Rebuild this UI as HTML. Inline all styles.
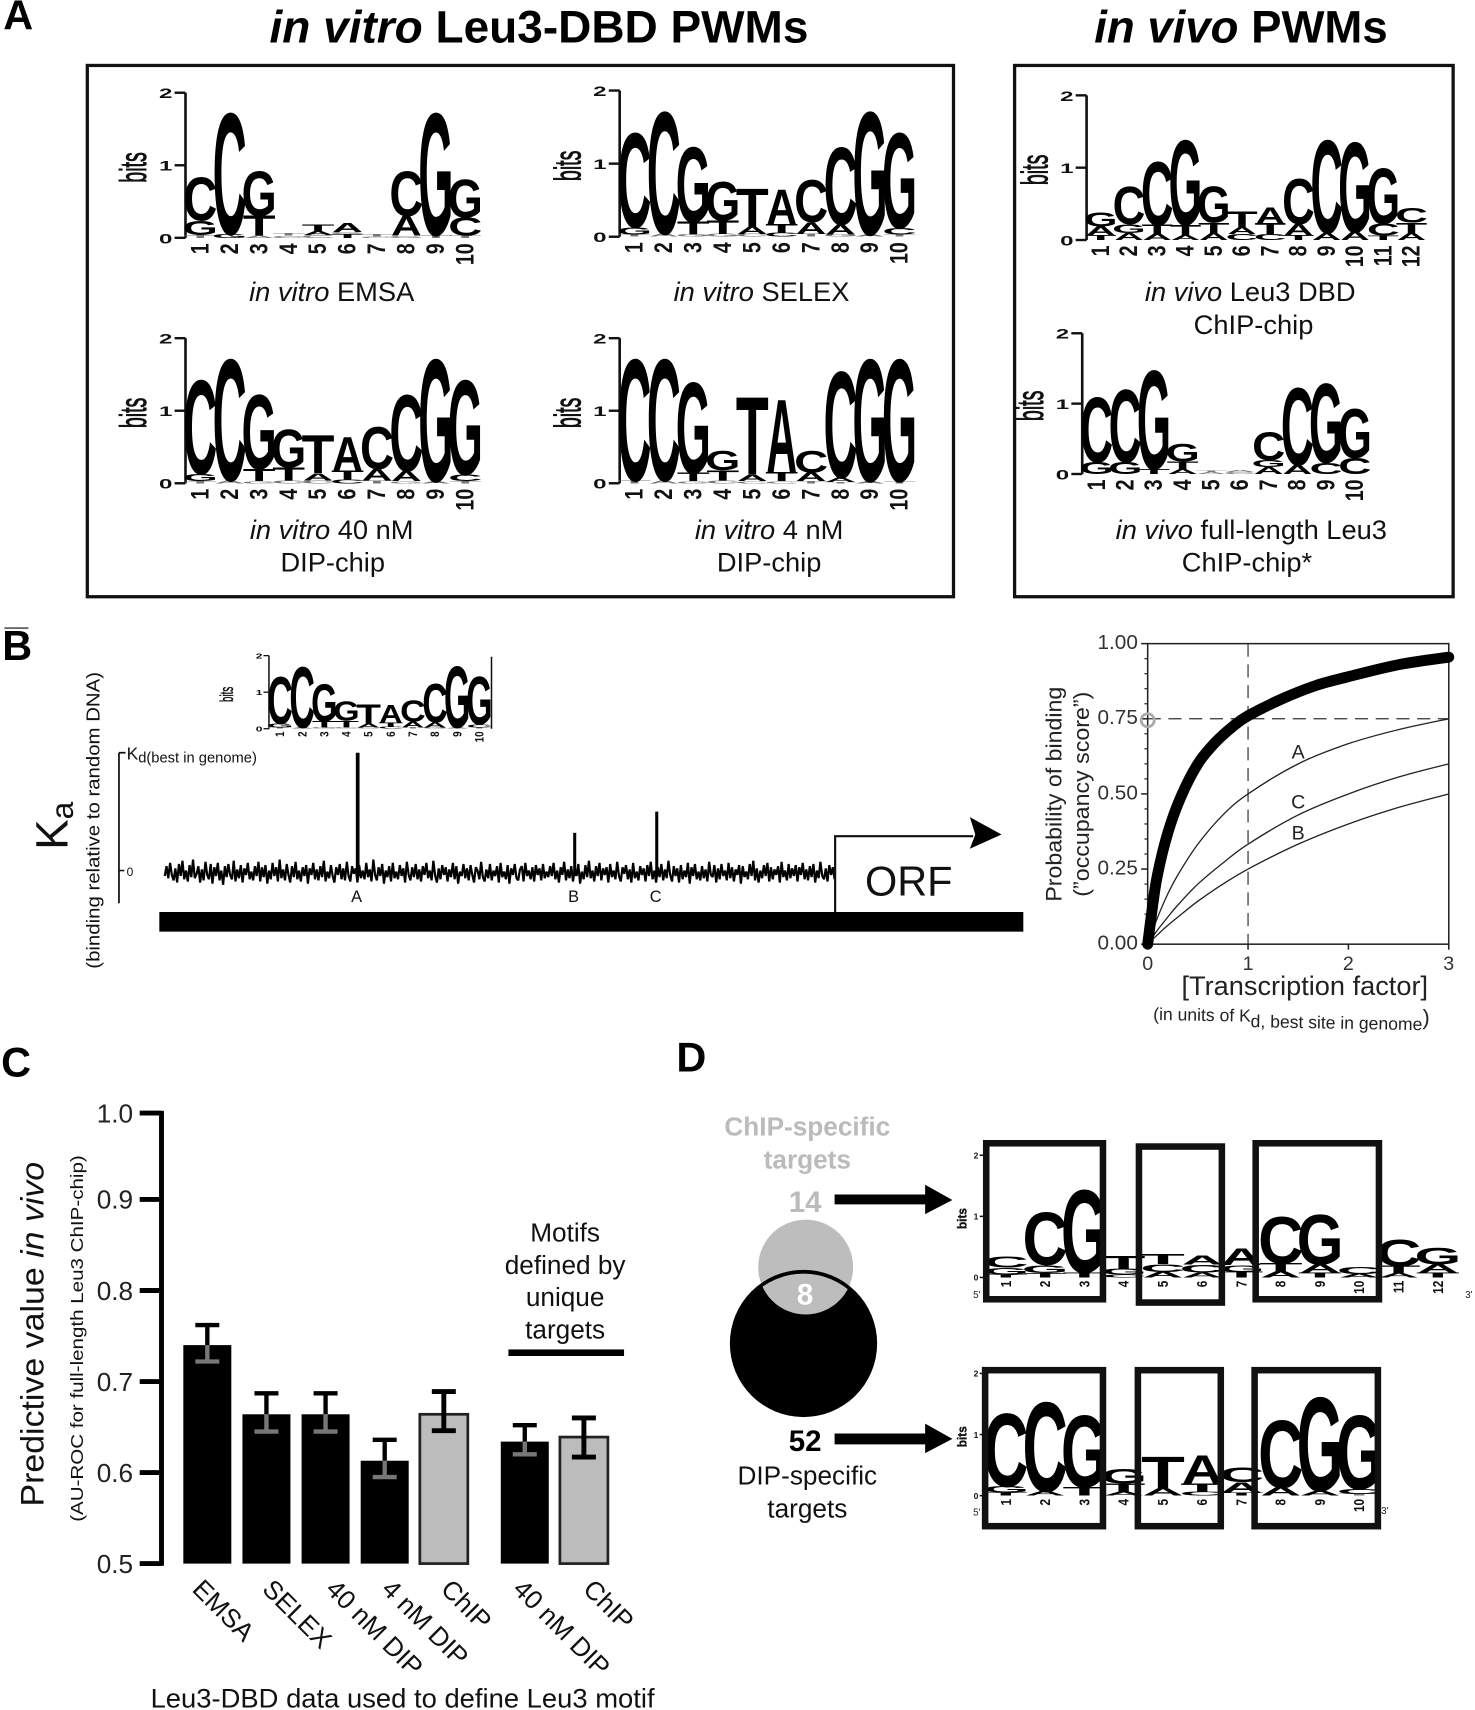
<!DOCTYPE html>
<html lang="en">
<head>
<meta charset="utf-8">
<title>Leu3 PWM figure</title>
<style>
html,body{margin:0;padding:0;background:#fff;}
svg{display:block;font-family:"Liberation Sans",sans-serif;}
</style>
</head>
<body>
<svg id="fig" xmlns="http://www.w3.org/2000/svg" width="1475" height="1710" viewBox="0 0 1352 1567.5">
  <rect x="0" y="0" width="1352" height="1567.5" fill="#fff"/>

  <!-- panel letters -->
  <text x="3" y="27" font-size="38" font-weight="bold">A</text>
  <text x="2" y="605" font-size="38" font-weight="bold">B</text>
  <text x="1" y="987" font-size="38" font-weight="bold">C</text>
  <text x="620" y="982" font-size="38" font-weight="bold">D</text>
  <rect x="4" y="575" width="22" height="1.5" fill="#555"/>

  <!-- panel A headings and frames -->
  <text x="247" y="39" font-size="42" font-weight="bold" textLength="494" lengthAdjust="spacingAndGlyphs"><tspan font-style="italic">in vitro</tspan> Leu3-DBD PWMs</text>
  <text x="1003" y="39" font-size="42" font-weight="bold" textLength="269" lengthAdjust="spacingAndGlyphs"><tspan font-style="italic">in vivo</tspan> PWMs</text>
  <rect x="80" y="60" width="794" height="487" fill="none" stroke="#111" stroke-width="3"/>
  <rect x="930" y="60" width="402" height="487" fill="none" stroke="#111" stroke-width="3"/>

  <g font-size="25" fill="#111" text-anchor="middle">
    <text x="304" y="276"><tspan font-style="italic">in vitro</tspan> EMSA</text>
    <text x="698" y="276"><tspan font-style="italic">in vitro</tspan> SELEX</text>
    <text x="304" y="494"><tspan font-style="italic">in vitro</tspan> 40 nM</text>
    <text x="305" y="524">DIP-chip</text>
    <text x="705" y="494"><tspan font-style="italic">in vitro</tspan> 4 nM</text>
    <text x="705" y="524">DIP-chip</text>
    <text x="1146" y="276"><tspan font-style="italic">in vivo</tspan> Leu3 DBD</text>
    <text x="1149" y="306">ChIP-chip</text>
    <text x="1147" y="494"><tspan font-style="italic">in vivo</tspan> full-length Leu3</text>
    <text x="1143" y="524">ChIP-chip*</text>
  </g>

  <g id="logos"></g>

  <g font-size="9" fill="#222">
    <text x="892" y="1190">5'</text>
    <text x="1343" y="1190">3'</text>
    <text x="892" y="1389">5'</text>
    <text x="1266" y="1388">3'</text>
  </g>

  <!-- panel B left -->
  <g fill="#111">
    <text transform="translate(62,757) rotate(-90)" text-anchor="middle" font-size="42">K<tspan font-size="29" dy="5">a</tspan></text>
    <text transform="translate(91,752) rotate(-90)" text-anchor="middle" font-size="17" textLength="272" lengthAdjust="spacingAndGlyphs">(binding relative to random DNA)</text>
    <text x="116" y="696" font-size="16">K<tspan font-size="13.5" dy="3">d(best in genome)</tspan></text>
    <text x="116" y="803" font-size="11">0</text>
  </g>
  <g id="promoter"></g>
  <rect x="146" y="836" width="792" height="18" fill="#000"/>
  <path d="M765.5 836 V766.5 H892" fill="none" stroke="#111" stroke-width="2"/>
  <path d="M889 749 L918 765 L889 778 L894 765 Z" fill="#000"/>
  <text x="833" y="821" text-anchor="middle" font-size="38" fill="#111">ORF</text>

  <!-- panel B right -->
  <g id="occupancy"></g>
  <g fill="#222">
    <text transform="translate(973,728) rotate(-90)" text-anchor="middle" font-size="20.5" textLength="197" lengthAdjust="spacingAndGlyphs">Probability of binding</text>
    <text transform="translate(998,728) rotate(-90)" text-anchor="middle" font-size="20.5" textLength="188" lengthAdjust="spacingAndGlyphs">(”occupancy score”)</text>
    <text x="1083" y="912" font-size="25" textLength="226" lengthAdjust="spacingAndGlyphs">[Transcription factor]</text>
    <text transform="translate(1057,935) rotate(1)" font-size="16.1">(in units of K<tspan font-size="16.1" dy="5">d, best site in genome</tspan><tspan dy="-5" font-size="20">)</tspan></text>
  </g>

  <!-- panel C -->
  <g id="bars"></g>
  <g fill="#111">
    <text transform="translate(40,1223) rotate(-90)" text-anchor="middle" font-size="30" textLength="316" lengthAdjust="spacingAndGlyphs">Predictive value <tspan font-style="italic">in vivo</tspan></text>
    <text transform="translate(76,1227) rotate(-90)" text-anchor="middle" font-size="16" textLength="336" lengthAdjust="spacingAndGlyphs">(AU-ROC for full-length Leu3 ChIP-chip)</text>
    <text x="138" y="1565" font-size="25" textLength="462" lengthAdjust="spacingAndGlyphs">Leu3-DBD data used to define Leu3 motif</text>
    <g font-size="24" text-anchor="middle">
      <text x="518" y="1138">Motifs</text>
      <text x="518" y="1168">defined by</text>
      <text x="518" y="1197">unique</text>
      <text x="518" y="1227">targets</text>
    </g>
    <rect x="466" y="1237" width="106" height="6" fill="#000"/>
  </g>

  <!-- panel D -->
  <defs>
    <clipPath id="venn-clip"><ellipse cx="736.5" cy="1234.5" rx="66" ry="67"/></clipPath>
  </defs>
  <g>
    <ellipse cx="738.5" cy="1161.5" rx="43.5" ry="43.5" fill="#bdbdbd"/>
    <ellipse cx="736.5" cy="1231.5" rx="67.5" ry="67.5" fill="#000"/>
    <ellipse cx="738.5" cy="1161.5" rx="43.5" ry="43.5" fill="#bdbdbd" clip-path="url(#venn-clip)"/>
    <text x="738" y="1196" text-anchor="middle" font-size="27" font-weight="bold" fill="#fff">8</text>
  </g>
  <g text-anchor="middle" font-size="24">
    <text x="740" y="1041" fill="#bbb" font-weight="bold">ChIP-specific</text>
    <text x="740" y="1071" fill="#bbb" font-weight="bold">targets</text>
    <text x="738" y="1111" fill="#bbb" font-weight="bold" font-size="27">14</text>
    <text x="738" y="1330" fill="#000" font-weight="bold" font-size="27">52</text>
    <text x="740" y="1361" fill="#111">DIP-specific</text>
    <text x="740" y="1391" fill="#111">targets</text>
  </g>
  <path d="M765 1095 H848 V1086 L873 1100 L848 1113 V1104 H765 Z" fill="#000"/>
  <path d="M765 1314 H848 V1305 L873 1319 L848 1332 V1324 H765 Z" fill="#000"/>
  <g fill="none" stroke="#111" stroke-width="6">
    <rect x="904" y="1048" width="107" height="143"/>
    <rect x="1044" y="1051" width="76" height="143"/>
    <rect x="1151" y="1048" width="113" height="143"/>
    <rect x="903" y="1256" width="108" height="143"/>
    <rect x="1043" y="1256" width="76" height="143"/>
    <rect x="1150" y="1256" width="113" height="143"/>
  </g>
</svg>
<script>
// ---------- sequence logo data (letter, bits), bottom to top ----------
const emsaStacks = [
  [['T',.04],['G',.2],['C',.6]],[['G',.05],['C',1.68]],[['A',.03],['T',.27],['G',.62]],
  [['C',.03],['T',.03]],[['C',.04],['A',.05],['T',.1]],[['T',.05],['G',.03],['A',.12]],
  [['C',.02],['T',.03]],[['G',.03],['A',.27],['C',.62]],[['T',.04],['G',1.69]],[['T',.03],['C',.25],['G',.53]]
];
const selexStacks = [
  [['T',.03],['G',.1],['C',1.3]],[['A',.04],['C',1.68]],[['G',.03],['T',.17],['G',1.03]],
  [['G',.04],['T',.18],['G',.53]],[['C',.04],['A',.1],['T',.52]],[['C',.05],['T',.12],['A',.47]],
  [['T',.04],['A',.16],['C',.58]],[['G',.03],['A',.14],['C',1.06]],[['A',.03],['G',1.69]],[['T',.03],['C',.09],['G',1.31]]
];
const nm40Stacks = [
  [['T',.03],['G',.1],['C',1.3]],[['A',.04],['C',1.68]],[['G',.03],['T',.17],['G',1.03]],
  [['C',.04],['T',.18],['G',.53]],[['C',.04],['A',.1],['T',.52]],[['C',.05],['T',.12],['A',.47]],
  [['T',.04],['A',.16],['C',.58]],[['G',.03],['A',.14],['C',1.06]],[['A',.03],['G',1.69]],[['T',.03],['C',.09],['G',1.31]]
];
const nm4Stacks = [
  [['T',.04],['C',1.68]],[['A',.04],['C',1.68]],[['G',.03],['T',.11],['G',1.26]],
  [['C',.04],['T',.14],['G',.27]],[['C',.03],['A',.09],['T',1.06]],[['C',.03],['T',.12],['A',1.0]],
  [['T',.03],['A',.12],['C',.3]],[['T',.02],['A',.06],['C',1.47]],[['A',.03],['G',1.69]],[['T',.03],['G',1.69]]
];
const vivoDbdStacks = [
  [['T',.07],['A',.12],['G',.2]],[['A',.1],['G',.12],['C',.52]],[['A',.09],['T',.12],['C',.88]],
  [['A',.07],['T',.14],['G',1.18]],[['A',.1],['T',.14],['G',.5]],[['C',.08],['A',.1],['T',.21]],
  [['C',.08],['T',.15],['A',.22]],[['T',.07],['A',.15],['C',.63]],[['A',.1],['C',1.29]],
  [['A',.11],['G',1.25]],[['T',.06],['C',.17],['G',.77]],[['A',.1],['T',.14],['C',.21]]
];
const vivoFullStacks = [
  [['G',.17],['C',.92]],[['G',.17],['C',1.03]],[['T',.07],['G',1.41]],
  [['A',.07],['T',.11],['G',.25]],[['A',.03],['T',.02]],[['C',.03],['A',.03]],
  [['A',.1],['G',.1],['C',.4]],[['A',.13],['C',1.1]],[['C',.16],['G',1.13]],[['C',.23],['G',.7]]
];
const dipChipStacks = [
  [['T',.05],['G',.11],['C',.18]],[['T',.07],['G',.13],['C',.86]],[['T',.08],['G',1.36]],
  [['C',.05],['G',.09],['T',.21]],[['A',.09],['C',.13],['T',.17]],[['A',.08],['C',.13],['A',.15]],
  [['T',.09],['G',.11],['A',.27]],[['A',.1],['T',.13],['C',.77]],[['T',.08],['A',.13],['G',.82]],
  [['A',.06],['C',.12]],[['A',.07],['T',.12],['C',.43]],[['T',.08],['A',.13],['G',.28]]
];
const dipSpecificStacks = [
  [['T',.05],['G',.1],['C',1.2]],[['A',.07],['C',1.47]],[['T',.14],['G',1.18]],
  [['A',.06],['T',.14],['G',.24]],[['A',.12],['T',.51]],[['C',.06],['T',.14],['A',.46]],
  [['T',.05],['A',.17],['C',.24]],[['A',.13],['C',1.11]],[['A',.08],['G',1.54]],[['T',.03],['C',.08],['G',1.21]]
];

// ---------- promoter track data ----------
const noiseValues = [
 3,-6,5,-9,2,7,-4,9,-8,3,-11,6,-2,8,-7,4,-12,5,1,-6,9,-3,7,-10,2,6,-8,10,-5,3,-9,7,-2,11,-6,4,-8,2,6,-11,
 8,-3,5,-7,9,-4,2,-9,6,-1,7,-6,3,-10,8,-5,4,-7,10,-2,6,-9,3,-5,8,-12,5,-3,7,-8,2,9,-6,4,-10,6,-2,8,-5,3,
 -7,10,-4,2,-9,6,-3,7,-6,4,-11,8,-1,5,-7,3,9,-5,2,-8,6,-4,7,-10,3,8,-6,1,-4,9,-7,5,-2,6,-9,4,-3,8,-12,2,
 7,-5,3,-8,10,-2,4,-6,8,-9,5,-1,6,-7,3,-4,9,-10,2,7,-5,4,-8,6,-3,8,-6,2,-9,5,-2,7,-11,3,9,-4,6,-7,2,-5,
 8,-3,4,-9,6,-6,10,-1,3,-8,5,-4,7,-7,2,9,-5,-2,6,-10,4,8,-3,5,-8,7,-2,3,-6,9,-9,4,-1,6,-7,10,-4,2,-8,5,
 7,-3,-6,8,-9,3,-2,6,-5,8,-7,2,-4,7,-8,5,-1,4,-6,3,-9,6,-2,9,-5,2,-10,7,-3,5,-6,8,-4,3,-8,10,-1,6,-7,4,
 -11,5,-2,8,-6,3,-9,7,-4,2,-5,9,-8,4,-2,6,-10,3,8,-5,1,-7,6,-3,9,-9,5,-1,7,-6,2,-4,8,-7,3,-10,6,-2,9,-5,
 4,-8,7,-3,5,-11,2,8,-6,3,-4,9,-7,6,-2,4,-9,10,-5,3,-8,6,-1,7,-6,5,-3,8,-10,2,4,-7,9,-4,6,-8,3,-2,7,-9,
 5,-5,8,-3,2,-7,10,-6,4,-1,6,-8,3,-11,7,-4,9,-2,5,-7,3,-9,8,-5,6,-3,2,-6,9,-10,4,-2,7,-8,5,-4,3,-7,8,-5,
 2,-9,6,-3,7,-6,4,-8,9,-2,5,-10,3,6,-4,8,-7,2,-5,6
];
const siteNames = ['A','B','C'];
const sitePosition = [0.288,0.612,0.7345];
const siteKa = [1,0.32,0.5];

// ---------- occupancy chart data ----------
const occX = [0,0.05,0.1,0.2,0.33,0.5,0.67,0.85,1,1.33,1.67,2,2.5,3];
const occStrong = [0,0.13,0.235,0.37,0.49,0.6,0.67,0.725,0.76,0.815,0.86,0.89,0.93,0.955];
const thinX = [0,0.1,0.2,0.3,0.5,0.75,1,1.5,2,2.5,3];
const occA = [0,0.09,0.167,0.23,0.333,0.43,0.5,0.6,0.667,0.714,0.75];
const occC = [0,0.048,0.09,0.13,0.2,0.27,0.333,0.43,0.5,0.556,0.6];
const occB = [0,0.032,0.0625,0.09,0.143,0.2,0.25,0.333,0.4,0.455,0.5];
const occXTicks = [0,1,2,3];
const occYTicks = [0,0.25,0.5,0.75,1];
const occYLabels = ['0.00','0.25','0.50','0.75','1.00'];

// ---------- bar chart data ----------
const barCategories = ['EMSA','SELEX','40 nM DIP','4 nM DIP','ChIP','40 nM DIP','ChIP'];
const barValues = [0.74,0.664,0.664,0.613,0.664,0.634,0.639];
const barHigh = [0.762,0.687,0.687,0.636,0.689,0.652,0.66];
const barLow = [0.722,0.645,0.645,0.595,0.646,0.62,0.617];
const barKinds = ['dip','dip','dip','dip','chip','dip','chip'];
const barYTicks = [0.5,0.6,0.7,0.8,0.9,1.0];

const NS = 'http://www.w3.org/2000/svg';
function mk(parent, tag, name, attrs){
  const el = document.createElementNS(NS, tag);
  
  
  for (const k in attrs) el.setAttribute(k, attrs[k]);
  parent.appendChild(el);
  return el;
}
function mkText(parent, name, str, attrs){
  const el = mk(parent, 'text', name, attrs);
  el.textContent = str;
  return el;
}

// ---------- logos ----------
const inkWidth = {C:65,G:68,T:57,A:72};
const inkHeight = {C:70,G:70,T:69,A:69};
function drawLogo(cfg){
  const g = mk(document.getElementById('logos'), 'g', cfg.name, {});
  const k = cfg.k || 1;
  const y = b => cfg.y0 - b * cfg.bitPx;
  if (cfg.axis !== false) {
    mk(g, 'path', 'logo-y-axis', {d:`M${cfg.x0} ${y(2)} V${y(0)}`, stroke:'#111', 'stroke-width':2*k+.4, fill:'none'});
  }
  [0,1,2].forEach(t => {
    mk(g, 'path', 'logo-y-tick', {d:`M${cfg.x0-10*k} ${y(t)} H${cfg.x0}`, stroke:'#111', 'stroke-width':2*k+.2});
    mkText(g, 'logo-y-tick-label', String(t), {
      transform:`translate(${cfg.x0-12*k},${y(t)+5*k}) scale(${cfg.tickWide||1.7},1)`,
      'text-anchor':'end','font-size':13*k,'font-weight':'bold',fill:'#111'});
  });
  mkText(g, 'logo-bits-label', 'bits', {
    transform:`translate(${cfg.x0-(cfg.bitsGap||36)*k},${y(1)+2}) rotate(-90) scale(1,${cfg.bitsStretch||1.9})`,
    'text-anchor':'middle','font-size':18*k,fill:'#111',
    'font-weight':cfg.bitsBold?'bold':'normal',stroke:'#111','stroke-width':.45*k});
  cfg.stacks.forEach((st,i) => {
    const cx = cfg.x0 + cfg.posW*(i+.5);
    let base = 0;
    st.forEach(pair => {
      const L = pair[0], b = pair[1];
      const sy = b*cfg.bitPx/inkHeight[L];
      const sx = cfg.posW*1.04/inkWidth[L];
      mkText(g, 'logo-letter', L, {
        transform:`translate(${cx},${y(base)}) scale(${sx},${sy})`,
        'text-anchor':'middle','font-size':100,'font-weight':'bold',
        fill: b < 0.05 ? '#777' : '#000'});
      base += b;
    });
    mkText(g, 'logo-position-label', String(i+1), {
      transform:`translate(${cx+7.5*k},${cfg.y0+5*k}) rotate(-90) scale(1,1.25)`,
      'text-anchor':'end','font-size':18*k,'font-weight':'bold',fill:'#111'});
  });
}
drawLogo({name:'logo-emsa',x0:170,y0:218,bitPx:66.5,posW:27,stacks:emsaStacks});
drawLogo({name:'logo-selex',x0:568,y0:217,bitPx:67,posW:27,stacks:selexStacks});
drawLogo({name:'logo-40nm',x0:170,y0:443,bitPx:66.5,posW:27,stacks:nm40Stacks});
drawLogo({name:'logo-4nm',x0:568,y0:443,bitPx:66.5,posW:27,stacks:nm4Stacks});
drawLogo({name:'logo-vivo-dbd',x0:996,y0:220,bitPx:66.3,posW:25.9,stacks:vivoDbdStacks});
drawLogo({name:'logo-vivo-full',x0:992,y0:434.5,bitPx:64.5,posW:26.3,stacks:vivoFullStacks});
drawLogo({name:'logo-inset',x0:246.5,y0:668,bitPx:33.5,posW:20.3,k:0.5,stacks:nm40Stacks,bitsGap:66});
drawLogo({name:'logo-dip-chip',x0:904,y0:1171,bitPx:56,posW:36,k:0.6,axis:false,tickWide:1,bitsGap:30,bitsStretch:1.1,bitsBold:true,stacks:dipChipStacks});
drawLogo({name:'logo-dip-specific',x0:904,y0:1371,bitPx:56,posW:36,k:0.6,axis:false,tickWide:1,bitsGap:30,bitsStretch:1.1,bitsBold:true,stacks:dipSpecificStacks});
mk(document.getElementById('logos'),'path','inset-right-rule',{d:'M450.5 602 V668',stroke:'#111','stroke-width':1.4});

// ---------- promoter ----------
(function(){
  const g = document.getElementById('promoter');
  const x = i => 151 + i*(614/(noiseValues.length-1));
  const xPos = f => 151 + f*614;
  const y = v => 800 + v;
  const yKa = v => 798 - v*108;
  const d = noiseValues.map((v,i)=>(i?'L':'M')+x(i).toFixed(1)+' '+y(v)).join(' ');
  mk(g,'path','binding-noise-trace',{d:d,fill:'none',stroke:'#000','stroke-width':2,'stroke-linejoin':'bevel'});
  mk(g,'path','ka-axis',{d:`M109 ${yKa(1)} V828`,stroke:'#111','stroke-width':1.6,fill:'none'});
  mk(g,'path','ka-tick-best',{d:`M109 ${yKa(1)} H115`,stroke:'#111','stroke-width':1.6});
  mk(g,'path','ka-tick-zero',{d:`M109 ${yKa(0)} H114`,stroke:'#111','stroke-width':1.4});
  siteNames.forEach((n,i)=>{
    const px = xPos(sitePosition[i]);
    mk(g,'path','site-peak-'+n.toLowerCase(),{d:`M${px} ${yKa(siteKa[i])} V803`,stroke:'#000','stroke-width':i===0?3.4:2.8});
    mkText(g,'site-label-'+n.toLowerCase(),n,{x:px-1,y:827,'text-anchor':'middle','font-size':15,fill:'#111'});
  });
})();

// ---------- occupancy ----------
(function(){
  const g = document.getElementById('occupancy');
  const X = v => 1052 + v*(276/3);
  const Y = v => 865.5 - v*275.5;
  function smooth(xs, ys){
    const p = xs.map((v,i)=>[X(v),Y(ys[i])]);
    let d = 'M'+p[0][0]+' '+p[0][1];
    for (let i=0;i<p.length-1;i++){
      const a=p[Math.max(i-1,0)],b=p[i],c=p[i+1],e=p[Math.min(i+2,p.length-1)];
      d += ` C${(b[0]+(c[0]-a[0])/6).toFixed(1)} ${(b[1]+(c[1]-a[1])/6).toFixed(1)} ${(c[0]-(e[0]-b[0])/6).toFixed(1)} ${(c[1]-(e[1]-b[1])/6).toFixed(1)} ${c[0].toFixed(1)} ${c[1].toFixed(1)}`;
    }
    return d;
  }
  mk(g,'rect','occupancy-plot-frame',{x:X(0),y:Y(1),width:X(3)-X(0),height:Y(0)-Y(1),fill:'none',stroke:'#222','stroke-width':1.4});
  occXTicks.forEach(t=>{
    mk(g,'path','occupancy-x-tick',{d:`M${X(t)} ${Y(0)} v5`,stroke:'#222','stroke-width':1.4});
    mkText(g,'occupancy-x-tick-label',String(t),{x:X(t),y:889,'text-anchor':'middle','font-size':18,fill:'#333'});
  });
  occYTicks.forEach((t,i)=>{
    mk(g,'path','occupancy-y-tick',{d:`M${X(0)-6} ${Y(t)} H${X(0)}`,stroke:'#222','stroke-width':1.4});
    mkText(g,'occupancy-y-tick-label',occYLabels[i],{x:1043,y:Y(t)+5,'text-anchor':'end','font-size':19,fill:'#333'});
    if (i<occYTicks.length-1) for (let m=1;m<5;m++){
      const v=t+m*0.05;
      mk(g,'path','occupancy-y-minor-tick',{d:`M${X(0)-3} ${Y(v)} H${X(0)}`,stroke:'#222','stroke-width':1.1});
    }
  });
  mk(g,'path','kd-guide-vertical',{d:`M${X(1)} ${Y(1)} V${Y(0)}`,stroke:'#333','stroke-width':1.1,'stroke-dasharray':'12 7',fill:'none'});
  mk(g,'path','occupancy-guide-horizontal',{d:`M${X(0)} ${Y(.75)} H${X(3)}`,stroke:'#333','stroke-width':1.1,'stroke-dasharray':'12 7',fill:'none'});
  mk(g,'path','curve-site-a',{d:smooth(thinX,occA),fill:'none',stroke:'#222','stroke-width':1.2});
  mk(g,'path','curve-site-c',{d:smooth(thinX,occC),fill:'none',stroke:'#222','stroke-width':1.2});
  mk(g,'path','curve-site-b',{d:smooth(thinX,occB),fill:'none',stroke:'#222','stroke-width':1.2});
  mk(g,'path','curve-best-site',{d:smooth(occX,occStrong),fill:'none',stroke:'#000','stroke-width':10,'stroke-linecap':'round'});
  mk(g,'circle','occupancy-marker',{cx:X(0),cy:Y(.745),r:6,fill:'none',stroke:'#aaa','stroke-width':2.5});
  mkText(g,'curve-label-a','A',{x:X(1.5),y:Y(.6)-5,'text-anchor':'middle','font-size':18,fill:'#222'});
  mkText(g,'curve-label-c','C',{x:X(1.5),y:Y(.43)-6,'text-anchor':'middle','font-size':18,fill:'#222'});
  mkText(g,'curve-label-b','B',{x:X(1.5),y:Y(.333)-4,'text-anchor':'middle','font-size':18,fill:'#222'});
})();

// ---------- bars ----------
(function(){
  const g = document.getElementById('bars');
  // the printed axis is slightly compressed above 0.9
  const Y = v => v <= 0.9 ? 1433.3 - (v-0.5)*834.5 : 1099.5 - (v-0.9)*792;
  const X = i => 190 + 54.2*i + (i>=5 ? 20 : 0);
  const halfW = 22;
  const labelStart = i => X(i) + ({0:-15,1:-5,2:-1,3:-4,4:-4,5:-12,6:-2})[i];
  mk(g,'path','bar-y-axis',{d:`M148 ${Y(1)-2} V${Y(.5)+2}`,stroke:'#000','stroke-width':4.5,fill:'none'});
  barYTicks.forEach(t=>{
    mk(g,'path','bar-y-tick',{d:`M128 ${Y(t)} H148`,stroke:'#000','stroke-width':4.5});
    mkText(g,'bar-y-tick-label',t.toFixed(1),{x:122,y:Y(t)+8.5,'text-anchor':'end','font-size':24,fill:'#222'});
  });
  barValues.forEach((v,i)=>{
    const chip = barKinds[i]==='chip';
    mk(g,'rect','bar-'+i,{x:X(i)-halfW,y:Y(v),width:halfW*2,height:Y(.5)-Y(v),
      fill:chip?'#bcbcbc':'#000',stroke:chip?'#222':'#000','stroke-width':chip?2.5:0});
    const low = chip?'#000':'#777';
    mk(g,'path','error-upper-'+i,{d:`M${X(i)} ${Y(barHigh[i])} V${Y(v)} M${X(i)-11} ${Y(barHigh[i])} H${X(i)+11}`,stroke:'#000','stroke-width':chip?4.5:4,fill:'none'});
    mk(g,'path','error-lower-'+i,{d:`M${X(i)} ${Y(v)} V${Y(barLow[i])} M${X(i)-11} ${Y(barLow[i])} H${X(i)+11}`,stroke:low,'stroke-width':chip?4.5:4,fill:'none'});
    const sx = labelStart(i), sy = 1458;
    mkText(g,'bar-x-label',barCategories[i],{transform:`translate(${sx},${sy}) rotate(45)`,'font-size':24,fill:'#111'});
  });
})();
</script>
</body>
</html>
